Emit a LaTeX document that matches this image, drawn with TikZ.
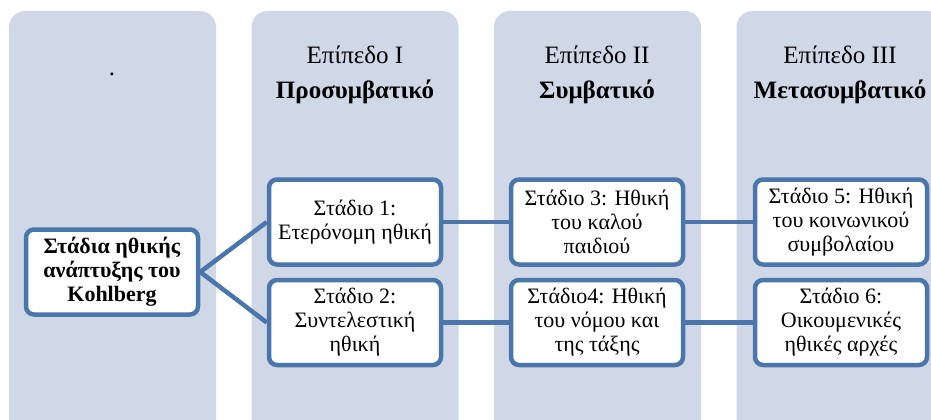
\documentclass[tikz,border=0pt]{standalone}
\usepackage{fontspec}
\setmainfont{Liberation Serif}
\usetikzlibrary{positioning}
\definecolor{levelfill}{HTML}{D0D8E8}
\definecolor{stageblue}{HTML}{4A76AB}

\begin{document}
\begin{tikzpicture}[x=1pt,y=-1pt,
  level/.style={fill=levelfill,rounded corners=16pt},
  stage/.style={draw=stageblue,line width=4.5pt,fill=white,rounded corners=8pt,
    minimum width=172pt,minimum height=85pt,align=center,inner sep=1pt,
    font=\fontsize{22}{24}\selectfont},
  head/.style={font=\fontsize{25}{26}\selectfont},
  link/.style={draw=stageblue,line width=4.5pt}]
\useasboundingbox (0,0) rectangle (931,420);
\clip (0,0) rectangle (931,420);
% the four columns
\foreach \i in {0,...,3}
  \fill[level] ({9+242.5*\i},11) rectangle +(207,430);
% column titles
\node[head] (dot) at (112,74) {.};
\node[head] (lvl1) at (355,55) {Επίπεδο I};
\node[head,font=\fontsize{25}{26}\selectfont\bfseries] (name1) at (355,92) {Προσυμβατικό};
\node[head] (lvl2) at (597,55) {Επίπεδο II};
\node[head,font=\fontsize{25}{26}\selectfont\bfseries] (name2) at (597,92) {Συμβατικό};
\node[head] (lvl3) at (840,55) {Επίπεδο III};
\node[head,font=\fontsize{25}{26}\selectfont\bfseries] (name3) at (840,92) {Μετασυμβατικό};
% stages
\node[stage,font=\fontsize{22}{24}\selectfont\bfseries] (kohl) at (112,272)
  {Στάδια ηθικής\\ανάπτυξης του\\Kohlberg};
\node[stage] (s1) at (355,222) {Στάδιο 1:\\Ετερόνομη ηθική};
\node[stage,below=11pt of s1] (s2) {Στάδιο 2:\\Συντελεστική\\ηθική};
\node[stage] (s3) at (597,222) {Στάδιο 3: Ηθική\\του καλού\\παιδιού};
\node[stage,below=11pt of s3] (s4) {Στάδιο4: Ηθική\\του νόμου και\\της τάξης};
\node[stage] (s5) at (841,222) {Στάδιο 5: Ηθική\\του κοινωνικού\\συμβολαίου};
\node[stage,below=11pt of s5] (s6) {Στάδιο 6:\\Οικουμενικές\\ηθικές αρχές};
% connectors
\draw[link] (s1.west) -- (kohl.east) -- (s2.west);
\draw[link] (s1) -- (s3) -- (s5);
\draw[link] (s2) -- (s4) -- (s6);
\end{tikzpicture}
\end{document}
